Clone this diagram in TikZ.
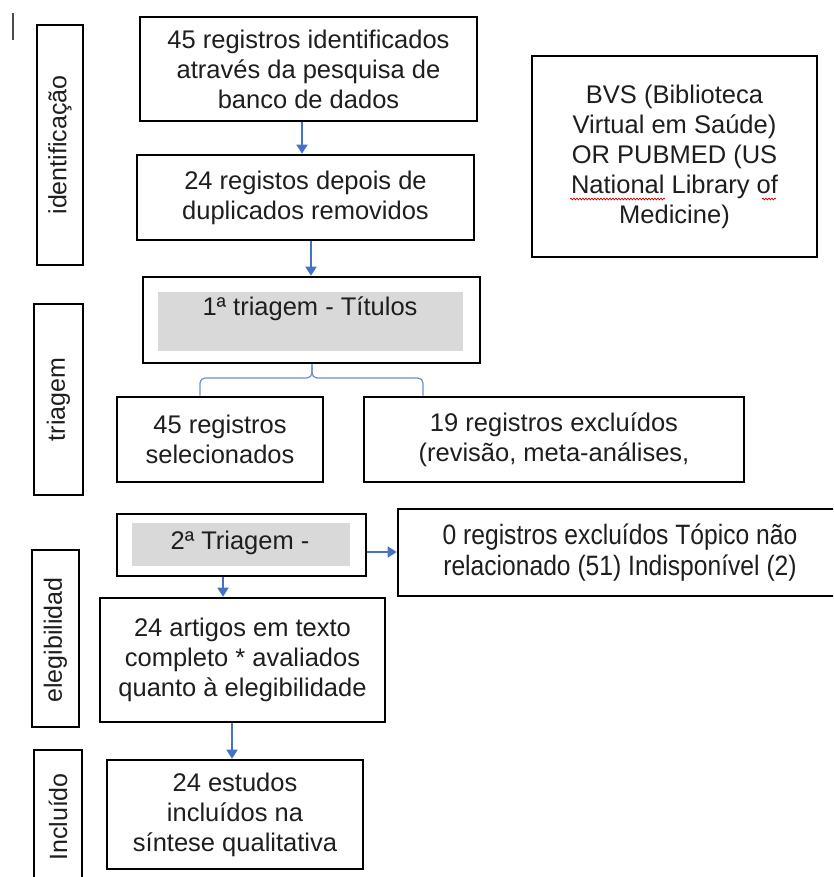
\documentclass[tikz,border=0pt]{standalone}
\usepackage{fontspec}
\setmainfont{Liberation Sans}
\newfontfamily\narrowfont[FakeStretch=0.88]{Liberation Sans}
\usetikzlibrary{arrows.meta,decorations.pathmorphing}
\definecolor{arrowblue}{HTML}{4472C4}
\definecolor{bracecol}{HTML}{6A8FD0}
\definecolor{boxgray}{HTML}{D9D9D9}
\definecolor{txt}{HTML}{1E1E1E}
\begin{document}
\begin{tikzpicture}[x=1pt,y=-1pt,
  box/.style={draw=black, line width=2.6pt, inner sep=0pt, align=center, text=txt,
              font=\fontsize{25.5}{30}\selectfont},
  graybox/.style={fill=boxgray, draw=none, inner sep=0pt},
  plaintext/.style={inner sep=0pt, align=center, text=txt, font=\fontsize{25.5}{30}\selectfont},
  lbl/.style={inner sep=0pt, text=txt, font=\fontsize{25}{30}\selectfont, rotate=90},
  arr/.style={draw=arrowblue, line width=1.6pt, -{Triangle[width=11pt,length=9pt]}},
  bracel/.style={draw=bracecol, line width=1.2pt, rounded corners=5pt},
  squiggle/.style={draw=red!80!black, line width=0.7pt, decorate,
                   decoration={snake, amplitude=0.9pt, segment length=3pt}}
]
\useasboundingbox (0,0) rectangle (833,877);
\clip (0,0) rectangle (833,877);
\fill[white] (0,0) rectangle (833,877);

% stray mark top-left
\coordinate (m1) at (13,13);
\coordinate (m2) at (13,40);
\draw[line width=1.5pt, black!70] (m1) -- (m2);

% stage labels
\node[box, minimum width=46pt, minimum height=240pt] (L1) at (60,145) {};
\node[lbl] (L1t) at (60,145) {identificação};
\node[box, minimum width=49pt, minimum height=191pt] (L2) at (58.5,399.5) {};
\node[lbl] (L2t) at (58.5,399.5) {triagem};
\node[box, minimum width=47pt, minimum height=177pt] (L3) at (55.5,638.5) {};
\node[lbl] (L3t) at (55.5,640) {elegibilidad};
\node[box, minimum width=48pt, minimum height=150pt] (L4) at (58,825) {};
\node[lbl] (L4t) at (58,817) {Incluído};

% main boxes
\node[box, minimum width=337pt, minimum height=104pt] (b1) at (308.5,69)
  {45 registros identificados\\através da pesquisa de\\banco de dados};
\node[box, minimum width=337pt, minimum height=85pt] (b2) at (305.5,197.5)
  {24 registos depois de\\duplicados removidos};
\node[box, minimum width=337pt, minimum height=86pt] (b3) at (311.5,320) {};
\node[graybox, minimum width=305pt, minimum height=59pt] (g3) at (310.5,321.5) {};
\node[plaintext] (t3) at (310,309) {1ª triagem - Títulos};

\node[box, minimum width=206pt, minimum height=85pt] (b4) at (220,439.5)
  {45 registros\\selecionados};
\node[box, minimum width=380pt, minimum height=85pt] (b5) at (554,439.5)
  {19 registros excluídos\\(revisão, meta-análises,};

\node[box, minimum width=249pt, minimum height=62pt] (b6) at (241.5,545) {};
\node[graybox, minimum width=218pt, minimum height=43pt] (g6) at (241,544.5) {};
\node[plaintext] (t6) at (240,543) {2ª Triagem -};

\node[box, minimum width=444pt, minimum height=87pt,
      font=\narrowfont\fontsize{28}{31.5}\selectfont] (b7) at (620,552.5)
  {0 registros excluídos Tópico não\\relacionado (51) Indisponível (2)};

\node[box, minimum width=285pt, minimum height=124pt] (b8) at (242.5,660)
  {24 artigos em texto\\completo * avaliados\\quanto à elegibilidade};
\node[box, minimum width=256pt, minimum height=109pt] (b9) at (235,814.5)
  {24 estudos\\incluídos na\\síntese qualitativa};

\node[box, minimum width=285pt, minimum height=201pt] (bvs) at (674.5,156.5)
  {BVS (Biblioteca\\Virtual em Saúde)\\OR PUBMED (US\\National Library of\\Medicine)};

% spell-check squiggles
\coordinate (s1a) at (570,199);
\coordinate (s1b) at (665,199);
\coordinate (s2a) at (762,199);
\coordinate (s2b) at (776,199);
\draw[squiggle] (s1a) -- (s1b);
\draw[squiggle] (s2a) -- (s2b);

% arrows
\coordinate (a1) at (302,0);
\coordinate (a2) at (311,0);
\coordinate (a3) at (0,552);
\coordinate (a4) at (223,0);
\coordinate (a5) at (232,0);
\draw[arr] (b1.south -| a1) -- (b2.north -| a1);
\draw[arr] (b2.south -| a2) -- (b3.north -| a2);
\draw[arr] (b6.east |- a3) -- (b7.west |- a3);
\draw[arr] (b6.south -| a4) -- (b8.north -| a4);
\draw[arr] (b8.south -| a5) -- (b9.north -| a5);

% brace
\coordinate (br) at (312,378);
\coordinate (bl) at (200,0);
\coordinate (brr) at (423,0);
\draw[bracel] (b4.north -| bl) -- (bl |- br) -- (br) -- (b3.south -| br);
\draw[bracel] (b5.north -| brr) -- (brr |- br) -- (br) -- (b3.south -| br);
\end{tikzpicture}
\end{document}
